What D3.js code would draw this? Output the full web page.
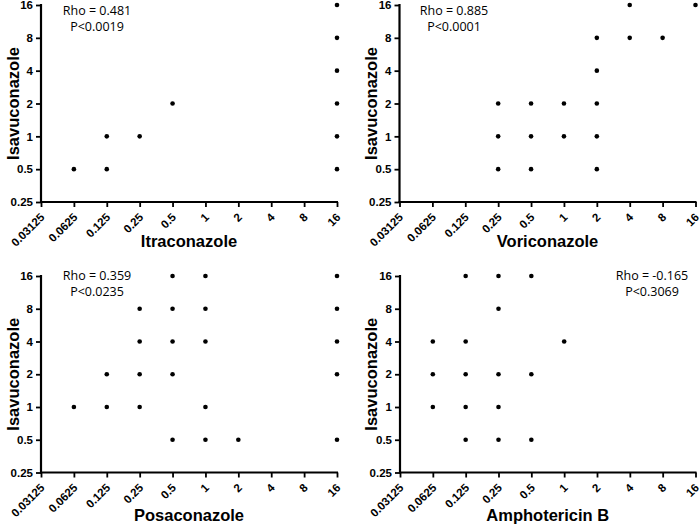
<!DOCTYPE html>
<html><head><meta charset="utf-8">
<script src="https://cdn.jsdelivr.net/npm/d3@7"></script>
<style>
html,body{margin:0;padding:0;background:#fff;}
svg{display:block;}
.tick text{font-family:"Liberation Sans",Arial,sans-serif;font-weight:bold;font-size:11.5px;fill:#000;}
</style></head>
<body><svg id="c" width="700" height="524"></svg>
<script>
const xTickValues = [0.03125,0.0625,0.125,0.25,0.5,1,2,4,8,16];
const xTickLabels = ["0.03125","0.0625","0.125","0.25","0.5","1","2","4","8","16"];
const yTickValues = [0.25,0.5,1,2,4,8,16];
const yTickLabels = ["0.25","0.5","1","2","4","8","16"];
const yTitle = "Isavuconazole";

const itraX = [0.0625,0.125,0.125,0.25,0.5,16,16,16,16,16,16];
const itraY = [0.5,1,0.5,1,2,16,8,4,2,1,0.5];
const voriX = [0.25,0.25,0.25,0.5,0.5,0.5,1,1,2,2,2,2,2,4,4,8,16];
const voriY = [2,1,0.5,2,1,0.5,2,1,8,4,2,1,0.5,16,8,8,16];
const posaX = [0.0625,0.125,0.125,0.25,0.25,0.25,0.25,0.5,0.5,0.5,0.5,0.5,1,1,1,1,1,2,16,16,16,16,16];
const posaY = [1,2,1,8,4,2,1,16,8,4,2,0.5,16,8,4,1,0.5,0.5,16,8,4,2,0.5];
const amphoX = [0.0625,0.0625,0.0625,0.125,0.125,0.125,0.125,0.125,0.25,0.25,0.25,0.25,0.25,0.5,0.5,0.5,1];
const amphoY = [4,2,1,16,4,2,1,0.5,16,8,2,1,0.5,16,2,0.5,4];

const drugNames = ["Itraconazole","Voriconazole","Posaconazole","Amphotericin B"];
const rhoTexts = ["Rho = 0.481","Rho = 0.885","Rho = 0.359","Rho = -0.165"];
const pTexts = ["P<0.0019","P<0.0001","P<0.0235","P<0.3069"];

const panels = [
  {xs:itraX, ys:itraY, x0:41, x1:337, yT:5, yB:202, tx:97, ty:15, xt:247, yt:8},
  {xs:voriX, ys:voriY, x0:399.5, x1:695.5, yT:5, yB:202, tx:454, ty:15, xt:247, yt:366},
  {xs:posaX, ys:posaY, x0:41, x1:337, yT:276, yB:472.5, tx:97, ty:280, xt:521, yt:8},
  {xs:amphoX, ys:amphoY, x0:400, x1:695.5, yT:276, yB:472.5, tx:652, ty:280, xt:521, yt:366}
];

const svg = d3.select("#c");
const font = '"Liberation Sans",Arial,sans-serif';

panels.forEach((p,i)=>{
  const x = d3.scaleLog().base(2).domain([0.03125,16]).range([p.x0,p.x1]);
  const y = d3.scaleLog().base(2).domain([0.25,16]).range([p.yB,p.yT]);
  const g = svg.append("g");

  const ya = g.append("g").attr("transform",`translate(${p.x0},0)`)
    .call(d3.axisLeft(y).tickValues(yTickValues).tickFormat((d,k)=>yTickLabels[k]).tickSize(5).tickPadding(3));
  ya.select(".domain").attr("stroke","#000").attr("stroke-width",2.2).attr("d",`M0,${p.yT-1}V${p.yB}`);
  ya.selectAll(".tick line").attr("stroke","#000").attr("stroke-width",1.8);

  const xa = g.append("g").attr("transform",`translate(0,${p.yB})`)
    .call(d3.axisBottom(x).tickValues(xTickValues).tickFormat((d,k)=>xTickLabels[k]).tickSize(5));
  xa.select(".domain").attr("stroke","#000").attr("stroke-width",2.2).attr("d",`M${p.x0-1},0H${p.x1+1}`);
  xa.selectAll(".tick line").attr("stroke","#000").attr("stroke-width",1.8);
  xa.selectAll(".tick text")
    .attr("text-anchor","end")
    .attr("dy","0.35em")
    .attr("y",0)
    .attr("transform","translate(1,13) rotate(-45)");

  g.selectAll("circle.pt").data(p.xs.map((v,k)=>[v,p.ys[k]])).join("circle")
    .attr("class","pt").attr("cx",d=>x(d[0])).attr("cy",d=>y(d[1])).attr("r",2.3).attr("fill","#000");

  g.append("text").attr("x",(p.x0+p.x1)/2).attr("y",p.xt)
    .attr("text-anchor","middle").attr("font-family",font).attr("font-weight","bold").attr("font-size",16.5)
    .text(drugNames[i]);
  g.append("text").attr("transform",`translate(${p.yt+5},${(p.yT+p.yB)/2}) rotate(-90)`)
    .attr("text-anchor","middle").attr("dy","0.35em").attr("font-family",font).attr("font-weight","bold").attr("font-size",16.5)
    .text(yTitle);

  g.append("text").attr("x",p.tx).attr("y",p.ty).attr("text-anchor","middle")
    .attr("font-family",'"Open Sans",sans-serif').attr("font-size",12.5).text(rhoTexts[i]);
  g.append("text").attr("x",p.tx).attr("y",p.ty+16).attr("text-anchor","middle")
    .attr("font-family",'"Open Sans",sans-serif').attr("font-size",12.5).text(pTexts[i]);
});
</script></body></html>
